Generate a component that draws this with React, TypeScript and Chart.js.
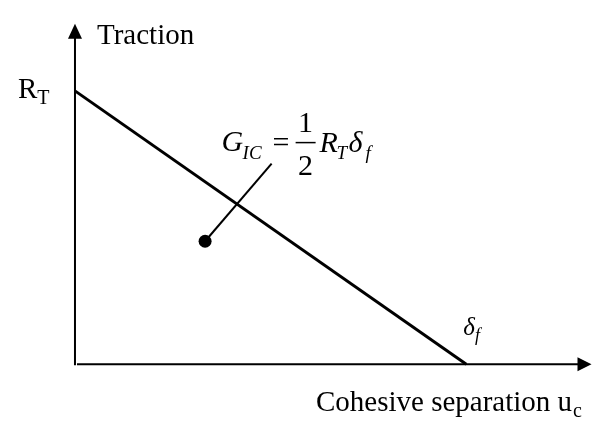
import React, { useEffect, useRef } from "react";
import { Chart, registerables } from "chart.js";

Chart.register(...registerables);

// Normalised traction–separation law (bilinear softening, linear branch only)
const separation = [0, 1]; // u_c / δ_f
const traction = [1, 0]; // T / R_T
// Marker inside the triangle (area = G_IC) and its leader line toward the formula
const markerX = [0.3325];
const markerY = [0.45];
const leaderX = [0.3325, 0.5025];
const leaderY = [0.45, 0.734];
// Axis extents (arrow tips) in data units
const axisEndX = 1.32;
const axisEndY = 1.245;
// Text labels
const yLabel = "Traction";
const xLabel = "Cohesive separation u";
const xLabelSub = "c";
const peakLabel = "R";
const peakLabelSub = "T";

const SERIF = '"Liberation Serif", "Times New Roman", serif';

const annotate = {
  id: "annotate",
  afterDraw(chart: any) {
    const ctx = chart.ctx as CanvasRenderingContext2D;
    const xs = chart.scales.x;
    const ys = chart.scales.y;
    const x0 = xs.getPixelForValue(0);
    const y0 = ys.getPixelForValue(0);
    const xTip = xs.getPixelForValue(axisEndX);
    const yTip = ys.getPixelForValue(axisEndY);
    const xEnd = xs.getPixelForValue(separation[1]);
    const yPeak = ys.getPixelForValue(traction[0]);
    ctx.save();
    ctx.strokeStyle = "#000";
    ctx.fillStyle = "#000";
    ctx.lineWidth = 2;
    // y axis
    ctx.beginPath();
    ctx.moveTo(x0, y0 + 1);
    ctx.lineTo(x0, yTip + 14);
    ctx.stroke();
    ctx.beginPath();
    ctx.moveTo(x0, yTip);
    ctx.lineTo(x0 - 7, yTip + 15);
    ctx.lineTo(x0 + 7, yTip + 15);
    ctx.closePath();
    ctx.fill();
    // x axis
    ctx.beginPath();
    ctx.moveTo(x0 + 2, y0);
    ctx.lineTo(xTip - 13, y0);
    ctx.stroke();
    ctx.beginPath();
    ctx.moveTo(xTip, y0);
    ctx.lineTo(xTip - 14, y0 - 7);
    ctx.lineTo(xTip - 14, y0 + 7);
    ctx.closePath();
    ctx.fill();

    ctx.textAlign = "left";
    ctx.textBaseline = "alphabetic";
    const txt = (s: string, size: number, x: number, y: number, italic = false) => {
      ctx.font = `${italic ? "italic " : ""}${size}px ${SERIF}`;
      ctx.fillText(s, x, y);
      return ctx.measureText(s).width;
    };
    // axis labels
    txt(yLabel, 29, x0 + 22, yTip + 20);
    const rw = txt(peakLabel, 29, x0 - 57, yPeak + 7);
    txt(peakLabelSub, 20, x0 - 57 + rw, yPeak + 13);
    const cw = txt(xLabel, 29, x0 + 241, y0 + 47);
    txt(xLabelSub, 20, x0 + 241 + cw + 1, y0 + 53);
    // δ_f at the end of the softening branch
    const dw = txt("δ", 25, xEnd - 3, y0 - 29, true);
    txt("f", 18, xEnd - 3 + dw, y0 - 23, true);

    // formula G_IC = 1/2 R_T δ_f anchored at the leader line's top
    const lx = xs.getPixelForValue(leaderX[1]);
    const ly = ys.getPixelForValue(leaderY[1]);
    txt("G", 30, lx - 50, ly - 13, true);
    txt("IC", 19, lx - 29, ly - 5, true);
    txt("=", 30, lx + 1, ly - 12);
    ctx.textAlign = "center";
    txt("1", 30, lx + 34, ly - 32);
    txt("2", 30, lx + 34, ly + 11);
    ctx.textAlign = "left";
    ctx.lineWidth = 1.5;
    ctx.beginPath();
    ctx.moveTo(lx + 24, ly - 21);
    ctx.lineTo(lx + 44, ly - 21);
    ctx.stroke();
    txt("R", 30, lx + 48, ly - 12, true);
    txt("T", 19, lx + 65, ly - 5, true);
    txt("δ", 30, lx + 77, ly - 12, true);
    txt("f", 19, lx + 94, ly - 5, true);
    ctx.restore();
  },
};

export default function App() {
  const ref = useRef<HTMLCanvasElement | null>(null);
  useEffect(() => {
    if (!ref.current) return;
    const W = 599;
    const H = 429;
    // view window so that the origin and unit points land where the reference puts them
    const pxPerX = 400;
    const pxPerY = 282;
    const xMin = -70 / pxPerX;
    const xMax = xMin + W / pxPerX;
    const yMax = 1 + 87 / pxPerY;
    const yMin = yMax - H / pxPerY;
    const chart = new Chart(ref.current, {
      type: "scatter",
      data: {
        datasets: [
          {
            data: separation.map((x, i) => ({ x, y: traction[i] })),
            showLine: true,
            borderColor: "#000",
            borderWidth: 3,
            pointRadius: 0,
            borderCapStyle: "butt",
          },
          {
            data: leaderX.map((x, i) => ({ x, y: leaderY[i] })),
            showLine: true,
            borderColor: "#000",
            borderWidth: 2,
            pointRadius: 0,
          },
          {
            data: markerX.map((x, i) => ({ x, y: markerY[i] })),
            showLine: false,
            backgroundColor: "#000",
            borderColor: "#000",
            pointRadius: 6.5,
            borderWidth: 0,
          },
        ],
      } as any,
      options: {
        animation: false,
        responsive: false,
        layout: { padding: 0 },
        plugins: { legend: { display: false }, tooltip: { enabled: false }, title: { display: false } },
        scales: {
          x: { type: "linear", min: xMin, max: xMax, display: false },
          y: { type: "linear", min: yMin, max: yMax, display: false },
        },
        events: [],
      } as any,
      plugins: [annotate],
    });
    return () => chart.destroy();
  }, []);
  return (
    <div style={{ position: "absolute", left: 0, top: 0, width: 599, height: 429, background: "#fff" }}>
      <canvas ref={ref} width={599} height={429} style={{ display: "block" }} />
    </div>
  );
}
